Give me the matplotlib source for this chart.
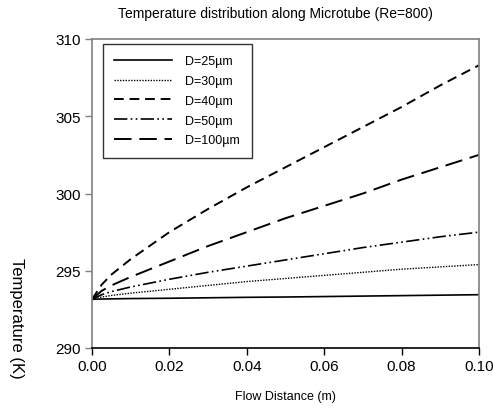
import matplotlib
matplotlib.use("Agg")
import matplotlib.pyplot as plt

plt.rcParams['font.family'] = ['Liberation Sans', 'DejaVu Sans']

# flow distance (m)
x = [0, 0.0025, 0.005, 0.01, 0.02, 0.03, 0.04, 0.05, 0.06, 0.07, 0.08, 0.09, 0.10]

t_25 = [293.15, 293.17, 293.18, 293.2, 293.22, 293.25, 293.28, 293.3, 293.33, 293.36, 293.39, 293.42, 293.45]
t_30 = [293.15, 293.3, 293.4, 293.55, 293.8, 294.05, 294.3, 294.5, 294.7, 294.9, 295.1, 295.25, 295.4]
t_40 = [293.15, 294.1, 294.75, 295.75, 297.5, 299.0, 300.4, 301.7, 303.0, 304.3, 305.6, 307.0, 308.3]
t_50 = [293.15, 293.45, 293.65, 293.95, 294.45, 294.9, 295.3, 295.7, 296.1, 296.5, 296.85, 297.2, 297.5]
t_100 = [293.15, 293.7, 294.05, 294.6, 295.6, 296.6, 297.5, 298.4, 299.2, 300.0, 300.9, 301.7, 302.5]

labels = ["D=25\u00b5m", "D=30\u00b5m", "D=40\u00b5m", "D=50\u00b5m", "D=100\u00b5m"]

fig = plt.figure(figsize=(4.93, 4.10), dpi=100)
ax = fig.add_axes([92/493, 1-349/410, (479-92)/493, (349-40)/410])

ax.plot(x, t_25, color="black", lw=1.2, ls="-", label=labels[0])
ax.plot(x, t_30, color="black", lw=1.0, ls=(0, (1, 1)), label=labels[1])
ax.plot(x, t_40, color="black", lw=1.4, ls=(0, (5, 3)), label=labels[2])
ax.plot(x, t_50, color="black", lw=1.2, ls=(0, (8, 2, 1, 2, 1, 2)), label=labels[3])
ax.plot(x, t_100, color="black", lw=1.4, ls=(0, (9, 4)), label=labels[4])

ax.set_xlim(0, 0.10)
ax.set_ylim(290, 310)
ax.set_xticks([0, 0.02, 0.04, 0.06, 0.08, 0.10])
ax.set_xticklabels(["0.00", "0.02", "0.04", "0.06", "0.08", "0.10"])
ax.set_yticks([290, 295, 300, 305, 310])
ax.tick_params(axis="both", direction="out", length=5, width=1, labelsize=11, pad=3)
ax.tick_params(axis="y", color="#808080")

for side in ["left", "top", "right"]:
    ax.spines[side].set_color("#808080")
    ax.spines[side].set_linewidth(1.2)
ax.spines["bottom"].set_color("black")
ax.spines["bottom"].set_linewidth(1.2)

leg = ax.legend(loc="upper left", bbox_to_anchor=(11/387, 1-5/309), borderaxespad=0,
                fontsize=9, frameon=True, fancybox=False, edgecolor="black",
                handlelength=4.6, handletextpad=1.1, labelspacing=0.62, borderpad=0.9)
leg.get_frame().set_linewidth(1.0)

fig.text(275/493, 1-14/410, "Temperature distribution along Microtube (Re=800)",
         ha="center", va="center", fontsize=10)
fig.text(285/493, 1-397/410, "Flow Distance (m)", ha="center", va="center", fontsize=9)
fig.text(16/493, 1-318/410, "Temperature (K)", ha="center", va="center",
         rotation=270, fontsize=12)

fig.savefig("out.png", dpi=100)
